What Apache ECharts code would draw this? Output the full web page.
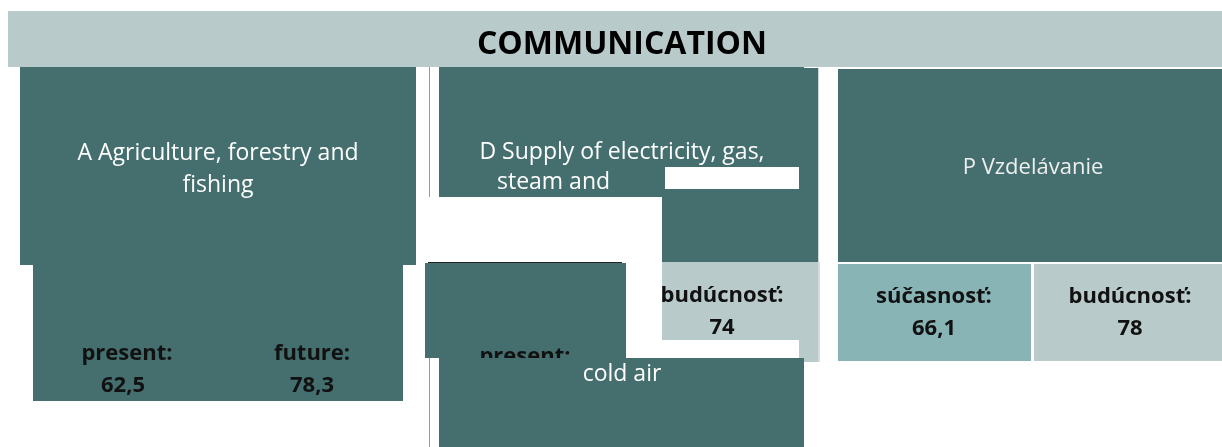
<!DOCTYPE html>
<html lang="en">

<head>
    <meta charset="UTF-8">
    <title>COMMUNICATION</title>
    <script src="https://cdn.jsdelivr.net/npm/echarts@6/dist/echarts.min.js"></script>
    <style>
        html, body { margin: 0; padding: 0; background: #fff; }
        #main { width: 1222px; height: 447px; }
    </style>
</head>

<body>
    <div id="main"></div>

    <script type="text/javascript">
        // 数据
        var title = 'COMMUNICATION';
        var sectors = ['A Agriculture, forestry and\nfishing', 'D Supply of electricity, gas,', 'P Vzdelávanie'];
        var sectorTail = 'steam and';
        var extraLabel = 'cold air';
        var presentLabels = ['present:', 'present:', 'súčasnosť:'];
        var futureLabels = ['future:', 'budúcnosť:', 'budúcnosť:'];
        var presentValues = [62.5, null, 66.1];
        var futureValues = [78.3, 74, 78];

        // 颜色
        var DARK = '#456f6f';
        var LIGHT = '#b9caca';
        var MID = '#88b4b6';
        var WHITE = '#ffffff';

        function fmt(v) {
            return String(v).replace('.', ',');
        }

        // 画的顺序 (版面坐标 = 像素)
        var drawList = [
            { rect: [8, 11, 1222, 67], fill: LIGHT },
            { text: title, at: [622, 45], kind: 'title' },

            // A
            { rect: [20, 67, 416, 265], fill: DARK },
            { rect: [33, 265, 403, 401], fill: DARK },
            { text: sectors[0], at: [218, 169], kind: 'name' },
            { text: presentLabels[0], at: [127, 354], kind: 'value' },
            { text: fmt(presentValues[0]), at: [123, 386], kind: 'value' },
            { text: futureLabels[0], at: [312, 354], kind: 'value' },
            { text: fmt(futureValues[0]), at: [312, 386], kind: 'value' },

            // D
            { rect: [429, 67, 430, 197], fill: '#9a9a9a' },
            { rect: [429, 358, 430, 447], fill: '#9a9a9a' },
            { rect: [439, 67, 804, 197], fill: DARK },
            { rect: [662, 68, 818, 262], fill: DARK },
            { rect: [818, 68, 819, 262], fill: '#cfd6d6' },
            { rect: [665, 167, 799, 189], fill: WHITE },
            { rect: [662, 262, 818, 362], fill: LIGHT },
            { rect: [818, 262, 820, 362], fill: '#d6dcdc' },
            { text: futureLabels[1], at: [722, 296], kind: 'value' },
            { text: fmt(futureValues[1]), at: [722, 328], kind: 'value' },
            { rect: [626, 340, 799, 358], fill: WHITE },
            { rect: [425, 263, 626, 358], fill: DARK },
            { rect: [428, 262, 622, 263], fill: '#222222' },
            { text: presentLabels[1], at: [525, 357], kind: 'value' },
            { rect: [439, 358, 804, 447], fill: DARK },
            { text: sectors[1], at: [622, 152], kind: 'name' },
            { text: sectorTail, at: [497, 182], kind: 'name', align: 'left' },
            { text: extraLabel, at: [622, 374], kind: 'name' },

            // P
            { rect: [838, 69, 1222, 262], fill: DARK },
            { rect: [838, 264, 1031, 361], fill: MID },
            { rect: [1034, 264, 1222, 361], fill: LIGHT },
            { text: sectors[2], at: [1033, 168], kind: 'small' },
            { text: presentLabels[2], at: [934, 297], kind: 'value' },
            { text: fmt(presentValues[2]), at: [934, 329], kind: 'value' },
            { text: futureLabels[2], at: [1130, 297], kind: 'value' },
            { text: fmt(futureValues[2]), at: [1130, 329], kind: 'value' }
        ];

        var textStyles = {
            title: { fontSize: 32, fontWeight: 'bold', fill: '#000000' },
            name: { fontSize: 23, fontWeight: 'normal', fill: '#ffffff', lineHeight: 32 },
            small: { fontSize: 22, fontWeight: 'normal', fill: '#eeeeee' },
            value: { fontSize: 22, fontWeight: 'bold', fill: '#111111' }
        };

        function renderItem(params, api) {
            var d = drawList[params.dataIndex];
            if (d.rect) {
                var p0 = api.coord([d.rect[0], d.rect[1]]);
                var p1 = api.coord([d.rect[2], d.rect[3]]);
                return {
                    type: 'rect',
                    shape: { x: p0[0], y: p0[1], width: p1[0] - p0[0], height: p1[1] - p0[1] },
                    style: { fill: d.fill }
                };
            }
            var p = api.coord(d.at);
            var s = textStyles[d.kind];
            return {
                type: 'text',
                style: {
                    text: d.text,
                    x: p[0],
                    y: p[1],
                    fill: s.fill,
                    fontSize: s.fontSize,
                    fontWeight: s.fontWeight,
                    fontFamily: '"Open Sans", sans-serif',
                    lineHeight: s.lineHeight,
                    align: d.align || 'center',
                    verticalAlign: 'middle'
                }
            };
        }

        var option = {
            animation: false,
            grid: { left: 0, right: 0, top: 0, bottom: 0 },
            xAxis: { type: 'value', min: 0, max: 1222, show: false },
            yAxis: { type: 'value', min: 0, max: 447, inverse: true, show: false },
            series: [{
                type: 'custom',
                renderItem: renderItem,
                data: drawList.map(function (d) {
                    return d.rect ? [d.rect[0], d.rect[1]] : d.at;
                })
            }]
        };

        var myChart = echarts.init(document.getElementById('main'));
        myChart.setOption(option);
    </script>
</body>

</html>
